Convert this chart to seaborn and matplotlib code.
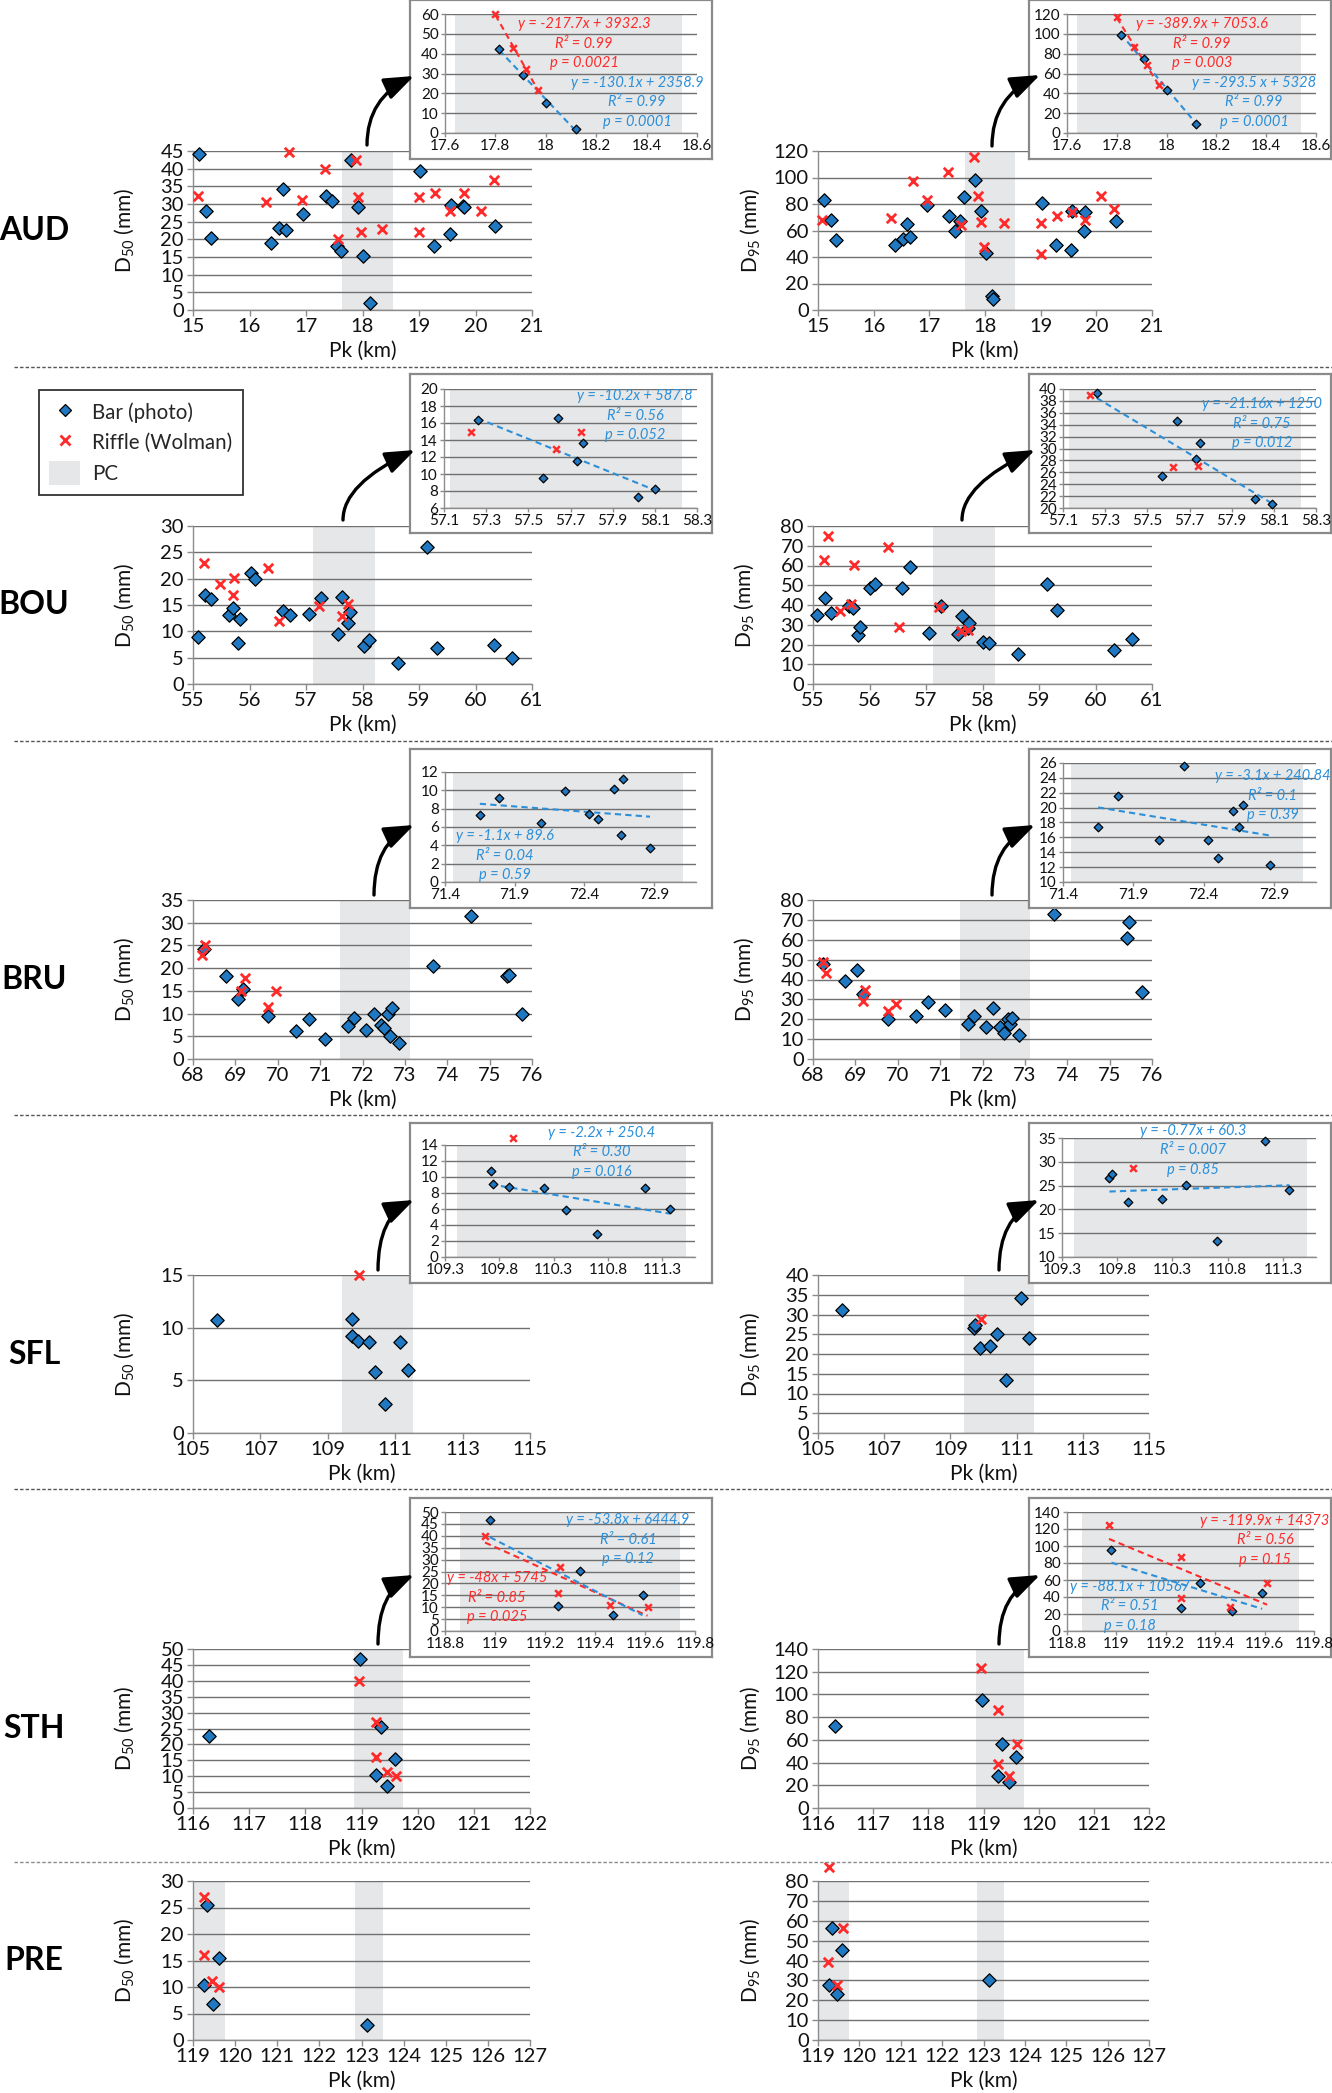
import numpy as np
import matplotlib
matplotlib.use("Agg")
import matplotlib.pyplot as plt
import seaborn as sns
from matplotlib.lines import Line2D
from matplotlib.patches import Patch, FancyArrowPatch
from matplotlib.ticker import FuncFormatter

# ---------------- data ----------------
# AUD
aud50_bar_pk = [15.10, 15.23, 15.32, 16.38, 16.52, 16.59, 16.65, 16.95, 17.35, 17.46, 17.54, 17.62,
                17.80, 17.92, 18.01, 18.14, 19.02, 19.26, 19.55, 19.57, 19.77, 19.80, 20.35]
aud50_bar_d = [44.2, 28.1, 20.4, 19.1, 23.2, 34.2, 22.6, 27.3, 32.2, 30.8, 18.1, 16.7,
               42.4, 29.1, 15.2, 2.0, 39.2, 18.1, 21.4, 29.6, 29.3, 29.1, 23.8]
aud50_rif_pk = [15.08, 16.30, 16.70, 16.93, 17.33, 17.57, 17.88, 17.92, 17.98, 18.34, 19.00, 19.00,
                19.28, 19.55, 19.79, 20.09, 20.32]
aud50_rif_d = [32.4, 30.5, 44.8, 31.0, 40.0, 20.0, 42.4, 32.0, 22.1, 23.0, 32.0, 22.1,
               33.0, 27.9, 33.0, 28.0, 36.9]
aud50_in_bar_pk = [17.815, 17.91, 18.00, 18.12]
aud50_in_bar_d = [42.4, 29.1, 15.3, 2.0]
aud50_in_rif_pk = [17.80, 17.87, 17.92, 17.97]
aud50_in_rif_d = [60.0, 42.9, 32.4, 21.8]
aud50_eq_rif = ["y = -217.7x + 3932.3", "R² = 0.99", "p = 0.0021"]
aud50_eq_bar = ["y = -130.1x + 2358.9", "R² = 0.99", "p = 0.0001"]

aud95_bar_pk = [15.11, 15.24, 15.33, 16.38, 16.53, 16.60, 16.66, 16.95, 17.35, 17.47, 17.55, 17.63,
                17.82, 17.92, 18.02, 18.13, 18.14, 19.02, 19.27, 19.55, 19.56, 19.77, 19.79, 20.35]
aud95_bar_d = [83.3, 67.7, 52.8, 49.1, 53.3, 64.9, 55.3, 79.2, 70.9, 59.9, 67.2, 85.0,
               98.1, 74.7, 42.8, 10.3, 8.3, 81.0, 48.8, 45.0, 75.0, 59.6, 74.0, 67.2]
aud95_rif_pk = [15.07, 16.31, 16.70, 16.95, 17.34, 17.57, 17.80, 17.88, 17.92, 17.98, 18.34, 19.00,
                19.00, 19.29, 19.56, 19.79, 20.09, 20.32]
aud95_rif_d = [67.9, 69.7, 97.4, 82.8, 103.9, 63.9, 115.7, 86.0, 66.4, 47.8, 65.7, 65.4,
               42.0, 70.7, 74.0, 67.9, 86.0, 76.2]
aud95_in_bar_pk = [17.815, 17.91, 18.00, 18.12]
aud95_in_bar_d = [98.8, 74.9, 43.4, 9.1]
aud95_in_rif_pk = [17.80, 17.87, 17.92, 17.97]
aud95_in_rif_d = [117.0, 86.6, 68.1, 48.2]
aud95_eq_rif = ["y = -389.9x + 7053.6", "R² = 0.99", "p = 0.003"]
aud95_eq_bar = ["y = -293.5 x + 5328", "R² = 0.99", "p = 0.0001"]

# BOU
bou50_bar_pk = [55.08, 55.21, 55.32, 55.63, 55.71, 55.80, 55.83, 56.02, 56.10, 56.59, 56.72, 57.05,
                57.27, 57.57, 57.64, 57.74, 57.77, 58.02, 58.11, 58.62, 59.15, 59.32, 60.32, 60.65]
bou50_bar_d = [9.0, 16.9, 16.2, 13.1, 14.5, 7.8, 12.3, 21.0, 19.9, 13.8, 13.1, 13.3,
               16.4, 9.5, 16.6, 11.5, 13.6, 7.2, 8.3, 4.0, 26.1, 6.8, 7.5, 5.0]
bou50_rif_pk = [55.20, 55.48, 55.70, 55.73, 56.33, 56.53, 57.23, 57.63, 57.74]
bou50_rif_d = [23.0, 19.0, 16.9, 20.1, 22.0, 11.9, 14.9, 13.0, 15.1]
bou50_in_bar_pk = [57.26, 57.57, 57.64, 57.73, 57.76, 58.02, 58.10]
bou50_in_bar_d = [16.35, 9.5, 16.6, 11.5, 13.6, 7.3, 8.2]
bou50_in_rif_pk = [57.23, 57.63, 57.75]
bou50_in_rif_d = [15.0, 13.0, 15.0]
bou50_eq_bar = ["y = -10.2x + 587.8", "R² = 0.56", "p = 0.052"]

bou95_bar_pk = [55.07, 55.21, 55.32, 55.63, 55.70, 55.80, 55.83, 56.01, 56.10, 56.58, 56.71, 57.05,
                57.26, 57.56, 57.64, 57.74, 57.76, 58.01, 58.11, 58.62, 59.14, 59.32, 60.32, 60.65]
bou95_bar_d = [34.9, 43.5, 36.2, 39.4, 38.4, 24.6, 29.0, 48.7, 50.7, 48.5, 59.1, 25.9,
               39.6, 25.3, 34.5, 28.3, 31.0, 21.5, 20.6, 15.0, 50.7, 37.7, 17.4, 22.6]
bou95_rif_pk = [55.19, 55.27, 55.48, 55.68, 55.73, 56.33, 56.53, 57.23, 57.62, 57.74]
bou95_rif_d = [62.7, 75.0, 36.9, 40.4, 60.1, 69.4, 29.0, 38.8, 26.8, 27.3]
bou95_in_bar_pk = [57.26, 57.57, 57.64, 57.73, 57.75, 58.01, 58.09]
bou95_in_bar_d = [39.3, 25.3, 34.6, 28.3, 31.0, 21.5, 20.6]
bou95_in_rif_pk = [57.23, 57.62, 57.74]
bou95_in_rif_d = [39.0, 26.9, 27.0]
bou95_eq_bar = ["y = -21.16x + 1250", "R² = 0.75", "p = 0.012"]

# BRU
bru50_bar_pk = [68.25, 68.77, 69.06, 69.19, 69.78, 70.42, 70.73, 71.12, 71.65, 71.79, 72.08, 72.26,
                72.44, 72.50, 72.60, 72.66, 72.69, 72.87, 73.67, 74.57, 75.40, 75.45, 75.77]
bru50_bar_d = [24.2, 18.3, 13.3, 15.5, 9.4, 6.1, 8.9, 4.4, 7.2, 9.1, 6.4, 9.9,
               7.5, 6.9, 10.0, 5.1, 11.2, 3.6, 20.4, 31.5, 18.2, 18.4, 9.9]
bru50_rif_pk = [68.22, 68.29, 69.14, 69.22, 69.77, 69.96]
bru50_rif_d = [23.0, 25.1, 15.0, 17.9, 11.5, 15.0]
bru50_in_bar_pk = [71.65, 71.79, 72.09, 72.26, 72.43, 72.50, 72.61, 72.66, 72.68, 72.87]
bru50_in_bar_d = [7.3, 9.2, 6.4, 9.9, 7.4, 6.9, 10.1, 5.1, 11.2, 3.7]
bru50_eq_bar = ["y = -1.1x + 89.6", "R² = 0.04", "p = 0.59"]

bru95_bar_pk = [68.24, 68.76, 69.05, 69.18, 69.78, 70.42, 70.72, 71.11, 71.65, 71.79, 72.08, 72.25,
                72.42, 72.50, 72.59, 72.66, 72.69, 72.86, 73.68, 75.40, 75.46, 75.77]
bru95_bar_d = [48.0, 39.1, 45.0, 32.9, 20.0, 21.6, 28.7, 24.6, 17.4, 21.4, 15.9, 25.8,
               16.0, 13.2, 19.9, 17.4, 20.4, 12.2, 73.1, 60.8, 69.1, 33.5]
bru95_rif_pk = [68.23, 68.30, 69.17, 69.22, 69.77, 69.96]
bru95_rif_d = [49.0, 43.1, 29.2, 34.9, 24.1, 27.6]
bru95_in_bar_pk = [71.65, 71.79, 72.08, 72.26, 72.43, 72.50, 72.61, 72.65, 72.68, 72.87]
bru95_in_bar_d = [17.4, 21.5, 15.7, 25.6, 15.6, 13.2, 19.6, 17.4, 20.3, 12.3]
bru95_eq_bar = ["y = -3.1x + 240.84", "R² = 0.1", "p = 0.39"]

# SFL
sfl50_bar_pk = [105.72, 109.72, 109.73, 109.89, 110.22, 110.41, 110.70, 111.13, 111.37]
sfl50_bar_d = [10.7, 10.8, 9.2, 8.7, 8.65, 5.8, 2.8, 8.65, 6.0]
sfl50_rif_pk = [109.93]
sfl50_rif_d = [15.0]
sfl50_in_bar_pk = [109.72, 109.74, 109.89, 110.21, 110.41, 110.70, 111.14, 111.37]
sfl50_in_bar_d = [10.8, 9.1, 8.7, 8.65, 5.85, 2.85, 8.65, 6.0]
sfl50_in_rif_pk = [109.93]
sfl50_in_rif_d = [14.9]
sfl50_eq_bar = ["y = -2.2x + 250.4", "R² = 0.30", "p = 0.016"]

sfl95_bar_pk = [105.73, 109.72, 109.74, 109.88, 110.20, 110.40, 110.69, 111.13, 111.38]
sfl95_bar_d = [31.2, 26.6, 27.4, 21.5, 22.0, 25.1, 13.3, 34.3, 24.1]
sfl95_rif_pk = [109.92]
sfl95_rif_d = [28.8]
sfl95_in_bar_pk = [109.73, 109.75, 109.90, 110.21, 110.42, 110.70, 111.14, 111.36]
sfl95_in_bar_d = [26.5, 27.4, 21.6, 22.1, 25.1, 13.3, 34.3, 24.1]
sfl95_in_rif_pk = [109.94]
sfl95_in_rif_d = [28.7]
sfl95_eq_bar = ["y = -0.77x + 60.3", "R² = 0.007", "p = 0.85"]

# STH
sth50_bar_pk = [116.29, 118.98, 119.34, 119.25, 119.46, 119.59]
sth50_bar_d = [22.6, 46.7, 25.5, 10.5, 6.8, 15.4]
sth50_rif_pk = [118.96, 119.25, 119.25, 119.46, 119.61]
sth50_rif_d = [40.0, 27.0, 16.1, 11.2, 10.0]
sth50_in_bar_pk = [118.98, 119.34, 119.25, 119.47, 119.59]
sth50_in_bar_d = [46.6, 25.4, 10.3, 6.7, 15.1]
sth50_in_rif_pk = [118.96, 119.26, 119.25, 119.46, 119.61]
sth50_in_rif_d = [39.9, 26.9, 15.8, 10.9, 10.0]
sth50_eq_rif = ["y = -48x + 5745", "R² = 0.85", "p = 0.025"]
sth50_eq_bar = ["y = -53.8x + 6444.9", "R² = 0.61", "p = 0.12"]

sth95_bar_pk = [116.30, 118.97, 119.33, 119.59, 119.26, 119.46]
sth95_bar_d = [72.3, 94.9, 56.2, 45.1, 28.1, 22.8]
sth95_rif_pk = [118.96, 119.26, 119.60, 119.26, 119.46]
sth95_rif_d = [123.6, 86.7, 56.2, 38.9, 28.1]
sth95_in_bar_pk = [118.98, 119.34, 119.59, 119.26, 119.47]
sth95_in_bar_d = [94.9, 56.5, 45.1, 27.5, 23.1]
sth95_in_rif_pk = [118.97, 119.26, 119.61, 119.26, 119.46]
sth95_in_rif_d = [124.3, 87.1, 56.1, 39.2, 28.2]
sth95_eq_rif = ["y = -119.9x + 14373", "R² = 0.56", "p = 0.15"]
sth95_eq_bar = ["y = -88.1x + 10567", "R² = 0.51", "p = 0.18"]

# PRE
pre50_bar_pk = [119.33, 119.25, 119.61, 119.47, 123.12]
pre50_bar_d = [25.5, 10.4, 15.4, 6.8, 2.9]
pre50_rif_pk = [119.25, 119.25, 119.45, 119.61]
pre50_rif_d = [27.0, 16.1, 11.2, 10.0]
pre95_bar_pk = [119.34, 119.58, 119.26, 119.47, 123.13]
pre95_bar_d = [56.2, 45.1, 27.8, 23.3, 30.3]
pre95_rif_pk = [119.26, 119.60, 119.25, 119.47]
pre95_rif_d = [86.9, 56.2, 39.2, 27.5]

# PC reaches (grey bands), in km
aud_pc = [(17.64, 18.54)]
bou_pc = [(57.13, 58.23)]
bru_pc = [(71.46, 73.11)]
sfl_pc = [(109.41, 111.52)]
sth_pc = [(118.86, 119.74)]
pre_pc = [(119.0, 119.75), (122.85, 123.5)]

# axis ticks
aud_xticks = list(range(15, 22))
bou_xticks = list(range(55, 62))
bru_xticks = list(range(68, 77))
sfl_xticks = list(range(105, 116, 2))
sth_xticks = list(range(116, 123))
pre_xticks = list(range(119, 128))
aud50_yticks, aud95_yticks = list(range(0, 46, 5)), list(range(0, 121, 20))
bou50_yticks, bou95_yticks = list(range(0, 31, 5)), list(range(0, 81, 10))
bru50_yticks, bru95_yticks = list(range(0, 36, 5)), list(range(0, 81, 10))
sfl50_yticks, sfl95_yticks = list(range(0, 16, 5)), list(range(0, 41, 5))
sth50_yticks, sth95_yticks = list(range(0, 51, 5)), list(range(0, 141, 20))
pre50_yticks, pre95_yticks = list(range(0, 31, 5)), list(range(0, 81, 10))

aud_in_xticks = [17.6, 17.8, 18.0, 18.2, 18.4, 18.6]
bou_in_xticks = [57.1, 57.3, 57.5, 57.7, 57.9, 58.1, 58.3]
bru_in_xticks = [71.4, 71.9, 72.4, 72.9]
sfl_in_xticks = [109.3, 109.8, 110.3, 110.8, 111.3]
sth_in_xticks = [118.8, 119.0, 119.2, 119.4, 119.6, 119.8]

# ---------------- style ----------------
sns.set_theme(style="white")
plt.rcParams["font.family"] = ["Lato", "DejaVu Sans"]
plt.rcParams["mathtext.fontset"] = "custom"
plt.rcParams["mathtext.rm"] = "Lato"

W, H = 1332, 2093
BLUE = "#1f78c1"
LINE_BLUE = "#2b8fd9"
RED = "#ff2b2b"
BAND = "#e6e7e8"
GRID = "#707070"
SPINE = "#8c8c8c"

fig = plt.figure(figsize=(W / 100, H / 100), dpi=100)
fig.patch.set_facecolor("white")


def box(l, t, r, b):
    # pixel rectangle (left, top, right, bottom) -> figure fraction
    return [l / W, 1 - b / H, (r - l) / W, (b - t) / H]


def fxy(x, y):
    return (x / W, 1 - y / H)


fmt = FuncFormatter(lambda v, p: f"{v:g}")


def style_axes(ax, xticks, xlim, yticks, size, tick_len=4):
    ax.set_xlim(*xlim)
    ax.set_ylim(yticks[0], yticks[-1])
    ax.set_xticks(xticks)
    ax.set_yticks(yticks)
    ax.xaxis.set_major_formatter(fmt)
    ax.yaxis.set_major_formatter(fmt)
    ax.set_axisbelow(True)
    ax.grid(axis="y", color=GRID, lw=1.0)
    ax.grid(axis="x", visible=False)
    for s in ("top", "right"):
        ax.spines[s].set_visible(False)
    for s in ("left", "bottom"):
        ax.spines[s].set_color(SPINE)
        ax.spines[s].set_linewidth(1.0)
    ax.tick_params(axis="x", direction="out", length=tick_len, width=1, color=SPINE,
                   labelsize=size, labelcolor="#111111", pad=2, bottom=True)
    ax.tick_params(axis="y", direction="out", length=tick_len, width=1, color=SPINE,
                   labelsize=size, labelcolor="#111111", pad=2.5, left=True)


def draw_points(ax, bar_pk, bar_d, rif_pk, rif_d, ms_d, ms_x, lw_x):
    sns.scatterplot(x=bar_pk, y=bar_d, ax=ax, marker="D", s=ms_d ** 2, color=BLUE,
                    edgecolor="black", linewidth=0.9, clip_on=False, zorder=3)
    if rif_pk:
        sns.scatterplot(x=rif_pk, y=rif_d, ax=ax, marker="x", s=ms_x ** 2, color=RED,
                        linewidth=lw_x, clip_on=False, zorder=4)


def main_panel(rect, bar_pk, bar_d, rif_pk, rif_d, xticks, yticks, bands, ylab):
    ax = fig.add_axes(box(*rect), zorder=1)
    ax.patch.set_alpha(0)
    for a, b in bands:
        ax.axvspan(a, b, color=BAND, lw=0, zorder=0.3)
    draw_points(ax, bar_pk, bar_d, rif_pk, rif_d, 6.8, 6.8, 2.0)
    style_axes(ax, xticks, (xticks[0], xticks[-1]), yticks, 14.5)
    ax.set_xlabel("Pk (km)", fontsize=15, labelpad=4, color="#111111")
    ax.set_ylabel(ylab, fontsize=15, color="#111111")
    ax.yaxis.set_label_coords(-0.166, 0.5)
    return ax


def inset_panel(frame, rect, bar_pk, bar_d, rif_pk, rif_d, xticks, xlim, yticks, band, fits, texts):
    fr = fig.add_axes(box(*frame), zorder=2)
    fr.set_xticks([])
    fr.set_yticks([])
    fr.set_facecolor("white")
    for s in fr.spines.values():
        s.set_visible(True)
        s.set_color("#8a8a8a")
        s.set_linewidth(1.6)
    ax = fig.add_axes(box(*rect), zorder=3)
    ax.patch.set_alpha(0)
    ax.axvspan(*band, color=BAND, lw=0, zorder=0.3)
    draw_points(ax, bar_pk, bar_d, rif_pk, rif_d, 4.4, 4.8, 1.8)
    for pk, d, col in fits:
        sns.regplot(x=pk, y=d, ax=ax, scatter=False, ci=None, truncate=True, color=col,
                    line_kws=dict(lw=1.5, ls=(0, (3, 2)), zorder=2.5))
    style_axes(ax, xticks, xlim, yticks, 11, tick_len=3)
    ax.tick_params(axis="x", pad=1.5)
    ax.tick_params(axis="y", pad=1.5)
    for lines, col, cx, cy in texts:
        for i, s in enumerate(lines):
            fig.text(*fxy(cx, cy + i * 19.5), s, color=col, fontsize=10.5, style="italic",
                     ha="center", va="center", zorder=12)


def arrow(tail, head):
    a = FancyArrowPatch(fxy(*tail), fxy(*head), transform=fig.transFigure,
                        connectionstyle="angle3,angleA=90,angleB=25",
                        arrowstyle="-|>,head_length=1.2,head_width=0.45", mutation_scale=15,
                        lw=2.4, color="black", shrinkA=0, shrinkB=0, zorder=10)
    fig.add_artist(a)


D50 = "D$_{\\mathregular{50}}$ (mm)"
D95 = "D$_{\\mathregular{95}}$ (mm)"

# ---------------- main panels ----------------
rows = [
    ("AUD", (151, 310), (193, 532), (818, 1152)),
    ("BOU", (526, 684), (193, 532), (813, 1152)),
    ("BRU", (900, 1059), (193, 532), (813, 1152)),
    ("SFL", (1275, 1433), (193, 530), (818, 1149)),
    ("STH", (1649, 1808), (193, 530), (818, 1149)),
    ("PRE", (1881, 2040), (193, 530), (818, 1149)),
]
main_data = {
    "AUD": ((aud50_bar_pk, aud50_bar_d, aud50_rif_pk, aud50_rif_d, aud50_yticks),
            (aud95_bar_pk, aud95_bar_d, aud95_rif_pk, aud95_rif_d, aud95_yticks), aud_xticks, aud_pc),
    "BOU": ((bou50_bar_pk, bou50_bar_d, bou50_rif_pk, bou50_rif_d, bou50_yticks),
            (bou95_bar_pk, bou95_bar_d, bou95_rif_pk, bou95_rif_d, bou95_yticks), bou_xticks, bou_pc),
    "BRU": ((bru50_bar_pk, bru50_bar_d, bru50_rif_pk, bru50_rif_d, bru50_yticks),
            (bru95_bar_pk, bru95_bar_d, bru95_rif_pk, bru95_rif_d, bru95_yticks), bru_xticks, bru_pc),
    "SFL": ((sfl50_bar_pk, sfl50_bar_d, sfl50_rif_pk, sfl50_rif_d, sfl50_yticks),
            (sfl95_bar_pk, sfl95_bar_d, sfl95_rif_pk, sfl95_rif_d, sfl95_yticks), sfl_xticks, sfl_pc),
    "STH": ((sth50_bar_pk, sth50_bar_d, sth50_rif_pk, sth50_rif_d, sth50_yticks),
            (sth95_bar_pk, sth95_bar_d, sth95_rif_pk, sth95_rif_d, sth95_yticks), sth_xticks, sth_pc),
    "PRE": ((pre50_bar_pk, pre50_bar_d, pre50_rif_pk, pre50_rif_d, pre50_yticks),
            (pre95_bar_pk, pre95_bar_d, pre95_rif_pk, pre95_rif_d, pre95_yticks), pre_xticks, pre_pc),
}
for name, (top, bot), (l1, r1), (l2, r2) in rows:
    d50, d95, xt, pc = main_data[name]
    main_panel((l1, top, r1, bot), *d50[:4], xt, d50[4], pc, D50)
    main_panel((l2, top, r2, bot), *d95[:4], xt, d95[4], pc, D95)
    fig.text(*fxy(34, (top + bot) / 2), name, fontsize=23, fontweight="bold",
             ha="center", va="center", color="black")

# ---------------- insets ----------------
LF, RF = (410, 712), (1029, 1331)
inset_panel((LF[0], 0, LF[1], 159), (445, 14, 697, 133),
            aud50_in_bar_pk, aud50_in_bar_d, aud50_in_rif_pk, aud50_in_rif_d,
            aud_in_xticks, (17.6, 18.6), list(range(0, 61, 10)), aud_pc[0],
            [(aud50_in_rif_pk, aud50_in_rif_d, RED), (aud50_in_bar_pk, aud50_in_bar_d, LINE_BLUE)],
            [(aud50_eq_rif, RED, 584, 24), (aud50_eq_bar, LINE_BLUE, 637, 83)])
inset_panel((RF[0], 0, RF[1], 159), (1067, 14, 1316, 133),
            aud95_in_bar_pk, aud95_in_bar_d, aud95_in_rif_pk, aud95_in_rif_d,
            aud_in_xticks, (17.6, 18.6), list(range(0, 121, 20)), aud_pc[0],
            [(aud95_in_rif_pk, aud95_in_rif_d, RED), (aud95_in_bar_pk, aud95_in_bar_d, LINE_BLUE)],
            [(aud95_eq_rif, RED, 1202, 24), (aud95_eq_bar, LINE_BLUE, 1254, 83)])
inset_panel((LF[0], 374, LF[1], 533), (444, 389, 697, 508),
            bou50_in_bar_pk, bou50_in_bar_d, bou50_in_rif_pk, bou50_in_rif_d,
            bou_in_xticks, (57.1, 58.3), list(range(6, 21, 2)), bou_pc[0],
            [(bou50_in_bar_pk, bou50_in_bar_d, LINE_BLUE)],
            [(bou50_eq_bar, LINE_BLUE, 635, 396)])
inset_panel((RF[0], 374, RF[1], 533), (1063, 389, 1316, 508),
            bou95_in_bar_pk, bou95_in_bar_d, bou95_in_rif_pk, bou95_in_rif_d,
            bou_in_xticks, (57.1, 58.3), list(range(20, 41, 2)), bou_pc[0],
            [(bou95_in_bar_pk, bou95_in_bar_d, LINE_BLUE)],
            [(bou95_eq_bar, LINE_BLUE, 1262, 404)])
inset_panel((LF[0], 749, LF[1], 908), (445, 772, 696, 882),
            bru50_in_bar_pk, bru50_in_bar_d, [], [],
            bru_in_xticks, (71.4, 73.2), list(range(0, 13, 2)), bru_pc[0],
            [(bru50_in_bar_pk, bru50_in_bar_d, LINE_BLUE)],
            [(bru50_eq_bar, LINE_BLUE, 505, 836)])
inset_panel((RF[0], 749, RF[1], 908), (1063, 763, 1316, 882),
            bru95_in_bar_pk, bru95_in_bar_d, [], [],
            bru_in_xticks, (71.4, 73.2), list(range(10, 27, 2)), bru_pc[0],
            [(bru95_in_bar_pk, bru95_in_bar_d, LINE_BLUE)],
            [(bru95_eq_bar, LINE_BLUE, 1273, 776)])
inset_panel((LF[0], 1123, LF[1], 1283), (445, 1145, 695, 1257),
            sfl50_in_bar_pk, sfl50_in_bar_d, sfl50_in_rif_pk, sfl50_in_rif_d,
            sfl_in_xticks, (109.3, 111.6), list(range(0, 15, 2)), sfl_pc[0],
            [(sfl50_in_bar_pk, sfl50_in_bar_d, LINE_BLUE)],
            [(sfl50_eq_bar, LINE_BLUE, 602, 1133)])
inset_panel((RF[0], 1123, RF[1], 1283), (1062, 1138, 1316, 1257),
            sfl95_in_bar_pk, sfl95_in_bar_d, sfl95_in_rif_pk, sfl95_in_rif_d,
            sfl_in_xticks, (109.3, 111.6), list(range(10, 36, 5)), sfl_pc[0],
            [(sfl95_in_bar_pk, sfl95_in_bar_d, LINE_BLUE)],
            [(sfl95_eq_bar, LINE_BLUE, 1193, 1131)])
inset_panel((LF[0], 1498, LF[1], 1657), (445, 1512, 695, 1631),
            sth50_in_bar_pk, sth50_in_bar_d, sth50_in_rif_pk, sth50_in_rif_d,
            sth_in_xticks, (118.8, 119.8), list(range(0, 51, 5)), sth_pc[0],
            [(sth50_in_rif_pk, sth50_in_rif_d, RED), (sth50_in_bar_pk, sth50_in_bar_d, LINE_BLUE)],
            [(sth50_eq_rif, RED, 497, 1578), (sth50_eq_bar, LINE_BLUE, 628, 1520)])
inset_panel((RF[0], 1498, RF[1], 1657), (1067, 1512, 1314, 1631),
            sth95_in_bar_pk, sth95_in_bar_d, sth95_in_rif_pk, sth95_in_rif_d,
            sth_in_xticks, (118.8, 119.8), list(range(0, 141, 20)), sth_pc[0],
            [(sth95_in_rif_pk, sth95_in_rif_d, RED), (sth95_in_bar_pk, sth95_in_bar_d, LINE_BLUE)],
            [(sth95_eq_rif, RED, 1265, 1521), (sth95_eq_bar, LINE_BLUE, 1130, 1587)])

# zoom arrows from the PC band up to the inset
for tail, head in [((367, 145), (414, 76)), ((992, 146), (1040, 75)),
                   ((343, 520), (415, 450)), ((962, 520), (1035, 450)),
                   ((374, 895), (414, 825)), ((992, 895), (1035, 825)),
                   ((378, 1270), (414, 1200)), ((999, 1270), (1039, 1200)),
                   ((378, 1644), (414, 1575)), ((999, 1644), (1040, 1575))]:
    arrow(tail, head)

# dashed separators between reaches
for y, c in [(367, "#555555"), (741, "#555555"), (1115, "#555555"),
             (1489, "#555555"), (1862, "#8a8a8a")]:
    fig.add_artist(Line2D([14 / W, 1], [1 - y / H] * 2, transform=fig.transFigure,
                          color=c, lw=1.0, ls=(0, (2.5, 1.5))))

# legend
handles = [Line2D([], [], ls="none", marker="D", ms=6.6, mfc=BLUE, mec="black", mew=0.9),
           Line2D([], [], ls="none", marker="x", ms=7.5, mec=RED, mew=2),
           Patch(facecolor=BAND, edgecolor="none")]
leg = fig.legend(handles, ["Bar (photo)", "Riffle (Wolman)", "PC"], loc="upper left",
                 bbox_to_anchor=fxy(39, 390), frameon=True, fancybox=False, edgecolor="black",
                 fontsize=14.8, handlelength=1.5, handleheight=1.4, handletextpad=0.6,
                 labelspacing=0.32, borderpad=0.5, borderaxespad=0)
leg.get_frame().set_linewidth(1.3)

fig.savefig("out.png", dpi=100)
